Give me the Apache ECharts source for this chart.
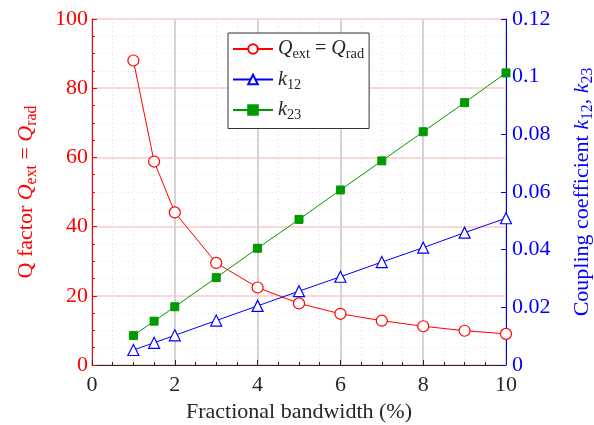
<!DOCTYPE html>
<html style="height: 100%">
   <head>
       <meta charset="utf-8">
   </head>
   <body style="height: 100%; margin: 0; background: #fff">
       <div id="container" style="width: 594px; height: 425px"></div>
       <script type="text/javascript" src="https://cdn.jsdelivr.net/npm/echarts@6/dist/echarts.min.js"></script>
       <script type="text/javascript">
            // fractional bandwidth (%)
            var bandwidth = [1, 1.5, 2, 3, 4, 5, 6, 7, 8, 9, 10];
            var qFactor = [88.0, 58.8, 44.1, 29.5, 22.4, 17.8, 14.8, 12.8, 11.2, 9.9, 9.0];
            var k12 = [0.0052, 0.0077, 0.0103, 0.0154, 0.0205, 0.0256, 0.0306, 0.0357, 0.0407, 0.0459, 0.0509];
            var k23 = [0.0102, 0.0152, 0.0202, 0.0303, 0.0405, 0.0505, 0.0607, 0.0708, 0.0809, 0.091, 0.1013];

            function pairs(xs, ys) {
                return xs.map(function (x, i) { return [x, ys[i]]; });
            }

            var font = "Liberation Serif";
            var fs = 22;
            var red = '#ff0000', blue = '#0000ff', green = '#009900';

            function richSet(color, size) {
                return {
                    a: {fontFamily: font, fontSize: size, color: color},
                    i: {fontFamily: font, fontSize: size, color: color, fontStyle: 'italic'},
                    s: {fontFamily: font, fontSize: size * 0.72, color: color, padding: [size * 0.55, 0, 0, 0]}
                };
            }
            // tick labels go through rich text too, so the serif face is kept
            function tickLabel(color, fmt) {
                return {
                    fontFamily: font, fontSize: fs, color: color,
                    formatter: function (v) { return '{t|' + fmt(v) + '}'; },
                    rich: {t: {fontFamily: font, fontSize: fs, color: color}}
                };
            }

            var dom = document.getElementById("container");
            var myChart = echarts.init(dom);
            var option = {
                animation: false,
                backgroundColor: '#fff',
                textStyle: {fontFamily: font},
                grid: {
                    left: 92, right: 88, top: 19, bottom: 60,
                    outerBoundsMode: 'none',
                    containLabel: false,
                    show: true, borderColor: '#262626', borderWidth: 1
                },
                legend: {
                    orient: 'vertical',
                    left: 228, top: 33,
                    padding: [6, 5, 6, 4],
                    itemGap: 8,
                    itemWidth: 40,
                    itemHeight: 12,
                    backgroundColor: '#fff',
                    borderColor: '#333',
                    borderWidth: 1,
                    borderRadius: 0,
                    textStyle: {
                        fontFamily: font, fontSize: 20, color: '#262626',
                        rich: richSet('#262626', 20)
                    },
                    formatter: function (name) {
                        if (name === 'Q') return '{i|Q}{s|ext}{a| = }{i|Q}{s|rad}';
                        if (name === 'k12') return '{i|k}{s|12}';
                        return '{i|k}{s|23}';
                    },
                    data: ['Q', 'k12', 'k23']
                },
                xAxis: {
                    type: 'value',
                    min: 0, max: 10, interval: 2,
                    name: 'Fractional bandwidth (%)',
                    nameLocation: 'middle',
                    nameGap: 34,
                    nameTextStyle: {fontFamily: font, fontSize: fs, color: '#262626'},
                    axisLine: {lineStyle: {color: '#262626'}},
                    axisTick: {inside: true, length: 5, lineStyle: {color: '#262626'}},
                    minorTick: {show: true, splitNumber: 4, length: 3, lineStyle: {color: '#262626'}},
                    axisLabel: Object.assign(tickLabel('#262626', String), {margin: 9}),
                    splitLine: {show: true, lineStyle: {color: '#d4d4d4', width: 2}},
                    minorSplitLine: {show: true, lineStyle: {color: '#e0e0e0', type: [1, 3], width: 1}}
                },
                yAxis: [{
                    type: 'value',
                    min: 0, max: 100, interval: 20,
                    name: '{a|Q factor }{i|Q}{s|ext}{a| = }{i|Q}{s|rad}',
                    nameLocation: 'middle',
                    nameGap: 52,
                    nameTextStyle: {fontFamily: font, fontSize: fs, color: red, rich: richSet(red, fs)},
                    axisLine: {lineStyle: {color: red}},
                    axisTick: {inside: true, length: 5, lineStyle: {color: red}},
                    minorTick: {show: true, splitNumber: 4, length: 3, lineStyle: {color: red}},
                    axisLabel: Object.assign(tickLabel(red, String), {margin: 4}),
                    splitLine: {show: true, lineStyle: {color: '#ffd6d6', width: 2}},
                    minorSplitLine: {show: true, lineStyle: {color: '#f4dede', type: [1, 3], width: 1}}
                }, {
                    type: 'value',
                    min: 0, max: 0.12, interval: 0.02,
                    position: 'right',
                    name: '{a|Coupling coefficient }{i|k}{s|12}{a|, }{i|k}{s|23}',
                    nameLocation: 'middle',
                    nameGap: 62,
                    nameTextStyle: {fontFamily: font, fontSize: fs, color: blue, rich: richSet(blue, fs)},
                    axisLine: {lineStyle: {color: blue}},
                    axisTick: {inside: true, length: 5, lineStyle: {color: blue}},
                    axisLabel: Object.assign(tickLabel(blue, function (v) { return String(+v.toFixed(2)); }), {margin: 6}),
                    splitLine: {show: false}
                }],
                series: [{
                    name: 'Q',
                    type: 'line',
                    yAxisIndex: 0,
                    data: pairs(bandwidth, qFactor),
                    symbol: 'circle',
                    symbolSize: 11,
                    showAllSymbol: true,
                    lineStyle: {color: red, width: 1},
                    itemStyle: {color: '#fff', borderColor: red, borderWidth: 1.2}
                }, {
                    name: 'k12',
                    type: 'line',
                    yAxisIndex: 1,
                    data: pairs(bandwidth, k12),
                    symbol: 'triangle',
                    symbolSize: 11,
                    lineStyle: {color: blue, width: 1},
                    itemStyle: {color: '#fff', borderColor: blue, borderWidth: 1.2}
                }, {
                    name: 'k23',
                    type: 'line',
                    yAxisIndex: 1,
                    data: pairs(bandwidth, k23),
                    symbol: 'rect',
                    symbolSize: 8,
                    lineStyle: {color: green, width: 1},
                    itemStyle: {color: green, borderColor: green, borderWidth: 1}
                }]
            };
            myChart.setOption(option);
       </script>
   </body>
</html>
